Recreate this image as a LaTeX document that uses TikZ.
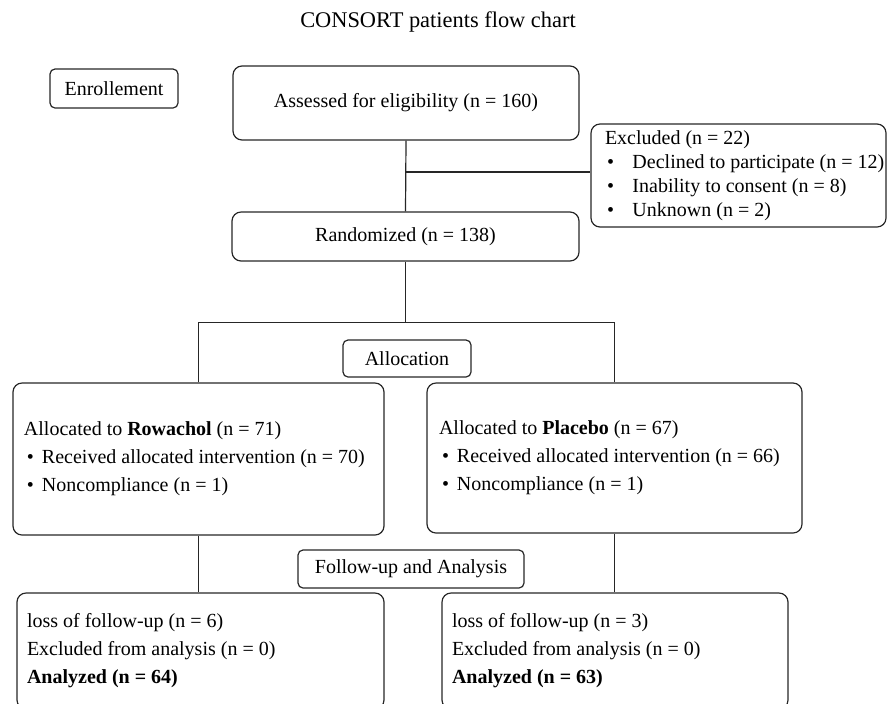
\documentclass[tikz,border=0pt]{standalone}
\usepackage{fontspec}
\setmainfont{Liberation Serif}
\usepackage{tikz}

\newcommand{\armitem}[1]{\hspace*{1.5pt}\makebox[7.5pt][l]{\textbullet}\mbox{#1}}
\newcommand{\exhead}[1]{\hspace*{6.25pt}\mbox{#1}}
\newcommand{\exitem}[1]{\hspace*{7.25pt}\makebox[12.75pt][l]{\textbullet}\mbox{#1}}

\begin{document}
\begin{tikzpicture}[
		x=0.5pt, y=-0.5pt,
		bigbox/.style={draw=black!85, line width=0.6pt, rounded corners=4.5pt, align=left, inner ysep=0pt,
			execute at begin node={\spaceskip=0pt\xspaceskip=0pt}},
		smallbox/.style={draw=black!85, line width=0.6pt, rounded corners=2.5pt, inner sep=0pt},
		link/.style={draw=black!85, line width=0.6pt},
		every node/.style={font=\fontsize{10}{12}\selectfont}
		]
		\clip (0,0) rectangle (887,703);
		\node (title) at (438,22) {\fontsize{11.2}{13}\selectfont CONSORT patients flow chart};
		\node[smallbox, minimum width=64pt, minimum height=19.5pt] (enroll) at (114,88.5) {Enrollement};
		\node[bigbox, minimum width=173pt, minimum height=37pt, inner xsep=0pt] (assess) at (406,103) {Assessed for eligibility (n = 160)};
		\node[bigbox, minimum height=51.5pt, text width=146pt, inner xsep=0.75pt,
			font=\fontsize{10}{12}\selectfont] (excl) at (738.5,175.5)
			{\exhead{Excluded (n = 22)}\\ \exitem{Declined to participate (n = 12)}\\ \exitem{Inability to consent (n = 8)}\\ \exitem{Unknown (n = 2)}};
		\node[bigbox, minimum width=173.5pt, minimum height=24.5pt, inner xsep=0pt] (rand) at (405.5,236.5) {Randomized (n = 138)};
		\node[smallbox, minimum width=64pt, minimum height=18.5pt] (alloc) at (407,358.5) {Allocation};
		\node[bigbox, minimum height=76pt, text width=174.5pt, inner xsep=5.5pt,
			font=\fontsize{10}{14}\selectfont] (rowa) at (198.5,459)
			{Allocated to \textbf{Rowachol} (n = 71)\\ \armitem{Received allocated intervention (n = 70)}\\ \armitem{Noncompliance (n = 1)}};
		\node[bigbox, minimum height=75pt, text width=175.5pt, inner xsep=6pt,
			font=\fontsize{10}{14}\selectfont] (plac) at (614.5,458)
			{Allocated to \textbf{Placebo} (n = 67)\\ \armitem{Received allocated intervention (n = 66)}\\ \armitem{Noncompliance (n = 1)}};
		\node[smallbox, minimum width=113pt, minimum height=19pt] (follow) at (411,569) {Follow-up and Analysis};
		\node[bigbox, minimum height=58pt, text width=173.5pt, inner xsep=5pt,
			font=\fontsize{10}{14}\selectfont] (lossA) at (200.5,651)
			{loss of follow-up (n = 6)\\ Excluded from analysis (n = 0)\\ \textbf{Analyzed (n = 64)}};
		\node[bigbox, minimum height=58pt, text width=163pt, inner xsep=5pt,
			font=\fontsize{10}{14}\selectfont] (lossB) at (615,651)
			{loss of follow-up (n = 3)\\ Excluded from analysis (n = 0)\\ \textbf{Analyzed (n = 63)}};
		% connectors
		\coordinate (exjoin) at (406,172);
		\draw[link] (assess.south) -- (rand.north);
		\draw[link] (exjoin) -- (excl.west |- exjoin);
		\draw[link] (rand.south) -- ++(0,61) coordinate (split);
		\draw[link] (rowa.north) |- (split) -| (plac.north);
		\draw[link] (rowa.south) -- (rowa.south |- lossA.north);
		\draw[link] (plac.south) -- (plac.south |- lossB.north);
	\end{tikzpicture}
\end{document}
